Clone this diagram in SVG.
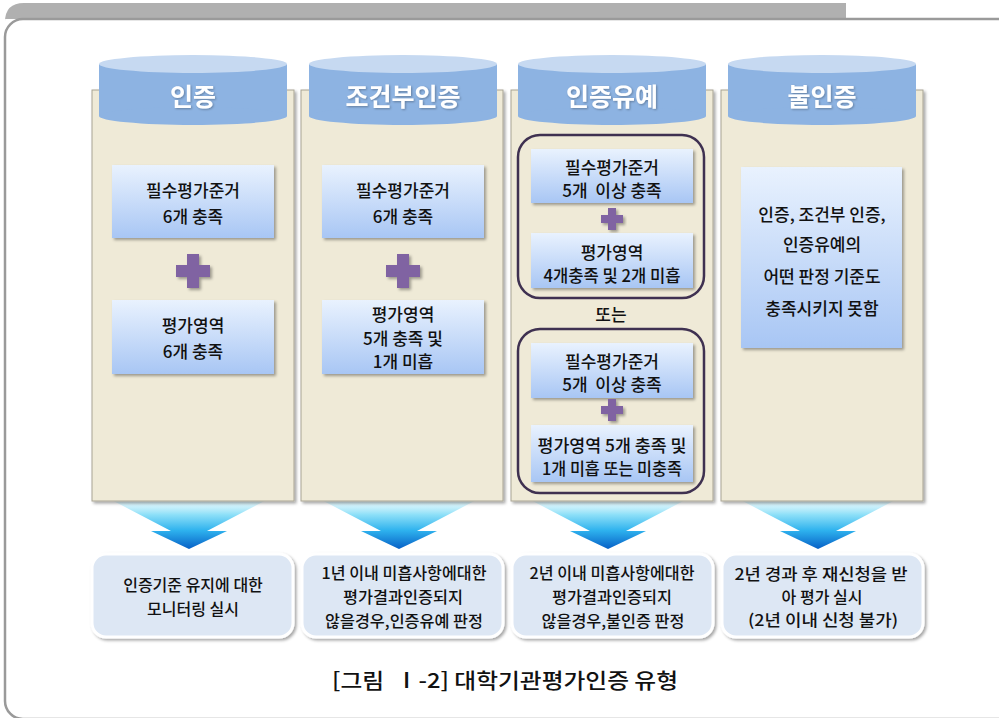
<svg xmlns="http://www.w3.org/2000/svg" width="999" height="718" viewBox="0 0 999 718">
<defs>
<style>
.t{font-family:"Noto Sans CJK KR","Noto Sans",sans-serif;fill:#111;text-anchor:middle;dominant-baseline:central;font-weight:500}
.in{font-size:17px}
.bt{font-size:16px}
.hd{font-family:"Noto Sans CJK KR","Noto Sans",sans-serif;font-weight:bold;font-size:25px;fill:#fff;text-anchor:middle;dominant-baseline:central}
.panel{fill:#efead7;stroke:#a8a493;stroke-width:1}
.box{fill:url(#boxg)}
.bbox{fill:#dde7f4;stroke:#fff;stroke-width:3}
.plus{fill:#8064a2}
.grp{fill:none;stroke:#3f3151;stroke-width:2.5}
.cylb{fill:#8db3e2}
.cylt{fill:#c6d9f1}
.arr{fill:url(#arrg)}
</style>
<linearGradient id="boxg" x1="0" y1="0" x2="0" y2="1">
<stop offset="0" stop-color="#e9f2fe"/>
<stop offset="1" stop-color="#a8c6f4"/>
</linearGradient>
<linearGradient id="arrg" x1="0" y1="0" x2="0" y2="1">
<stop offset="0" stop-color="#d8f4fb" stop-opacity="0.2"/>
<stop offset="0.35" stop-color="#8ee0f8"/>
<stop offset="0.65" stop-color="#2eb2ee"/>
<stop offset="1" stop-color="#0760c6"/>
</linearGradient>
<filter id="sh" x="-10%" y="-10%" width="125%" height="125%">
<feDropShadow dx="2" dy="2" stdDeviation="1.5" flood-color="#000" flood-opacity="0.35"/>
</filter>
<filter id="tsh" x="-10%" y="-10%" width="125%" height="125%">
<feDropShadow dx="1" dy="1" stdDeviation="0.8" flood-color="#000" flood-opacity="0.3"/>
</filter>
</defs>

<g id="frame">
<path d="M5,22 Q5,3 24,3 H846 V19 H5 Z" fill="#b0b0b0"/>
<rect x="5" y="19" width="1010" height="700" rx="18" fill="#fff" stroke="#9a9a9a" stroke-width="2.5"/>
</g>

<g id="connectors">
<polygon class="arr" points="104,496 274,496 207,531 227,531 189,549 151,531 171,531"/>
<polygon class="arr" points="314,496 484,496 417,531 437,531 399,549 361,531 381,531"/>
<polygon class="arr" points="523,496 693,496 626,531 646,531 608,549 570,531 590,531"/>
<polygon class="arr" points="733,496 903,496 836,531 856,531 818,549 780,531 800,531"/>
</g>

<g id="col1">
<rect class="panel" x="92" y="90" width="202" height="411" filter="url(#sh)"/>
<rect class="cylb" x="99" y="64" width="188" height="52"/>
<ellipse class="cylb" cx="193" cy="116" rx="94" ry="9"/>
<ellipse class="cylt" cx="193" cy="64" rx="94" ry="9"/>
<text class="hd" x="193" y="95" filter="url(#tsh)">인증</text>
<rect class="box" x="112" y="165" width="162" height="73" filter="url(#sh)"/>
<text class="t in" x="193" y="189">필수평가준거</text>
<text class="t in" x="193" y="215">6개 충족</text>
<path class="plus" d="M187,254 h12 v11 h11 v12 h-11 v11 h-12 v-11 h-11 v-12 h11 z" filter="url(#sh)"/>
<rect class="box" x="112" y="300" width="162" height="74" filter="url(#sh)"/>
<text class="t in" x="193" y="324">평가영역</text>
<text class="t in" x="193" y="350">6개 충족</text>
</g>

<g id="col2">
<rect class="panel" x="301" y="90" width="202" height="411" filter="url(#sh)"/>
<rect class="cylb" x="309" y="64" width="188" height="52"/>
<ellipse class="cylb" cx="403" cy="116" rx="94" ry="9"/>
<ellipse class="cylt" cx="403" cy="64" rx="94" ry="9"/>
<text class="hd" x="403" y="95" filter="url(#tsh)">조건부인증</text>
<rect class="box" x="322" y="165" width="162" height="73" filter="url(#sh)"/>
<text class="t in" x="403" y="189">필수평가준거</text>
<text class="t in" x="403" y="215">6개 충족</text>
<path class="plus" d="M397,254 h12 v11 h11 v12 h-11 v11 h-12 v-11 h-11 v-12 h11 z" filter="url(#sh)"/>
<rect class="box" x="322" y="300" width="162" height="74" filter="url(#sh)"/>
<text class="t in" x="403" y="313">평가영역</text>
<text class="t in" x="403" y="337">5개 충족 및</text>
<text class="t in" x="403" y="360">1개 미흡</text>
</g>

<g id="col3">
<rect class="panel" x="511" y="90" width="202" height="411" filter="url(#sh)"/>
<rect class="cylb" x="518" y="64" width="188" height="52"/>
<ellipse class="cylb" cx="612" cy="116" rx="94" ry="9"/>
<ellipse class="cylt" cx="612" cy="64" rx="94" ry="9"/>
<text class="hd" x="612" y="95" filter="url(#tsh)">인증유예</text>
<rect class="grp" x="518" y="135" width="186" height="163" rx="22"/>
<rect class="box" x="531" y="149" width="162" height="54" filter="url(#sh)"/>
<text class="t in" x="612" y="166">필수평가준거</text>
<text class="t in" x="612" y="189" xml:space="preserve">5개  이상 충족</text>
<path class="plus" d="M608,208 h8 v7 h7 v8 h-7 v7 h-8 v-7 h-7 v-8 h7 z" filter="url(#sh)"/>
<rect class="box" x="531" y="233" width="162" height="55" filter="url(#sh)"/>
<text class="t in" x="612" y="251">평가영역</text>
<text class="t in" x="612" y="274" textLength="137" lengthAdjust="spacingAndGlyphs">4개충족 및 2개 미흡</text>
<text class="t in" x="611" y="313">또는</text>
<rect class="grp" x="518" y="329" width="186" height="164" rx="22"/>
<rect class="box" x="531" y="343" width="162" height="55" filter="url(#sh)"/>
<text class="t in" x="612" y="360">필수평가준거</text>
<text class="t in" x="612" y="383" xml:space="preserve">5개  이상 충족</text>
<path class="plus" d="M608,399 h8 v7 h7 v8 h-7 v7 h-8 v-7 h-7 v-8 h7 z" filter="url(#sh)"/>
<rect class="box" x="531" y="425" width="162" height="57" filter="url(#sh)"/>
<text class="t in" x="612" y="444" textLength="149" lengthAdjust="spacingAndGlyphs">평가영역 5개 충족 및</text>
<text class="t in" x="612" y="467" textLength="140" lengthAdjust="spacingAndGlyphs">1개 미흡 또는 미충족</text>
</g>

<g id="col4">
<rect class="panel" x="721" y="90" width="202" height="411" filter="url(#sh)"/>
<rect class="cylb" x="728" y="64" width="188" height="52"/>
<ellipse class="cylb" cx="822" cy="116" rx="94" ry="9"/>
<ellipse class="cylt" cx="822" cy="64" rx="94" ry="9"/>
<text class="hd" x="822" y="95" filter="url(#tsh)">불인증</text>
<rect class="box" x="741" y="167" width="161" height="181" filter="url(#sh)"/>
<text class="t in" x="822" y="213">인증, 조건부 인증,</text>
<text class="t in" x="822" y="243">인증유예의</text>
<text class="t in" x="822" y="275">어떤 판정 기준도</text>
<text class="t in" x="822" y="307">충족시키지 못함</text>
</g>

<g id="res1">
<rect class="bbox" x="92" y="554" width="201" height="83" rx="14" filter="url(#sh)"/>
<text class="t bt" x="193" y="584">인증기준 유지에 대한</text>
<text class="t bt" x="193" y="608">모니터링 실시</text>
</g>
<g id="res2">
<rect class="bbox" x="302" y="554" width="201" height="83" rx="14" filter="url(#sh)"/>
<text class="t bt" x="404" y="572" textLength="165" lengthAdjust="spacingAndGlyphs">1년 이내 미흡사항에대한</text>
<text class="t bt" x="403" y="596" textLength="120" lengthAdjust="spacingAndGlyphs">평가결과인증되지</text>
<text class="t bt" x="404" y="620" textLength="158" lengthAdjust="spacingAndGlyphs">않을경우,인증유예 판정</text>
</g>
<g id="res3">
<rect class="bbox" x="512" y="554" width="201" height="83" rx="14" filter="url(#sh)"/>
<text class="t bt" x="612" y="572" textLength="165" lengthAdjust="spacingAndGlyphs">2년 이내 미흡사항에대한</text>
<text class="t bt" x="612" y="596" textLength="120" lengthAdjust="spacingAndGlyphs">평가결과인증되지</text>
<text class="t bt" x="613" y="620" textLength="143" lengthAdjust="spacingAndGlyphs">않을경우,불인증 판정</text>
</g>
<g id="res4">
<rect class="bbox" x="722" y="554" width="201" height="83" rx="14" filter="url(#sh)"/>
<text class="t bt" x="821" y="573" textLength="173" lengthAdjust="spacingAndGlyphs">2년 경과 후 재신청을 받</text>
<text class="t bt" x="822" y="596">아 평가 실시</text>
<text class="t bt" x="823" y="619" textLength="150" lengthAdjust="spacingAndGlyphs">(2년 이내 신청 불가)</text>
</g>

<g id="caption">
<text class="t" x="505" y="679" font-size="21" textLength="346" lengthAdjust="spacingAndGlyphs" xml:space="preserve">[그림  Ⅰ-2] 대학기관평가인증 유형</text>
</g>
</svg>
